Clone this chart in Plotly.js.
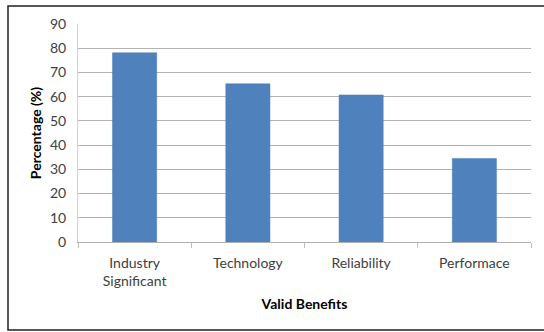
<!DOCTYPE html>
<html>
<head>
<meta charset="utf-8">
<script src="https://cdn.plot.ly/plotly-3.0.1.min.js"></script>
<style>html,body{margin:0;padding:0;background:#fff;}#chart{width:544px;height:332px;}</style>
</head>
<body>
<div id="chart"></div>
<script>
const categories = ["Industry<br>Significant", "Technology", "Reliability", "Performace"];
const values = [78.1, 65.3, 60.7, 34.5];
const yTickValues = [0, 10, 20, 30, 40, 50, 60, 70, 80, 90];

const font = "Lato, 'Open Sans', 'Liberation Sans', sans-serif";

const trace = {
  type: "bar",
  x: categories,
  y: values,
  marker: {color: "#4f81bd", line: {color: "#4a7dba", width: 0.5}},
  hoverinfo: "none"
};

const layout = {
  width: 544,
  height: 332,
  margin: {l: 78, r: 13, t: 24, b: 90},
  paper_bgcolor: "#ffffff",
  plot_bgcolor: "#ffffff",
  showlegend: false,
  bargap: 0.61,
  font: {family: font, size: 14, color: "#404040"},
  xaxis: {
    type: "category",
    tickson: "boundaries",
    ticks: "outside",
    ticklen: 5,
    tickcolor: "#bfbfbf",
    showline: true,
    linecolor: "#b0b0b0",
    linewidth: 1,
    showgrid: false,
    tickfont: {family: font, size: 14, color: "#404040"},
    ticklabelstandoff: 8,
    title: {text: "Valid Benefits", font: {family: font, size: 14, color: "#000000", weight: "bold"}, standoff: 11}
  },
  yaxis: {
    range: [0, 90],
    tickvals: yTickValues,
    ticktext: yTickValues.map(String),
    showgrid: true,
    gridcolor: "#b3b3b3",
    gridwidth: 1,
    zeroline: false,
    showline: true,
    linecolor: "#d0d0d0",
    linewidth: 1,
    ticks: "",
    tickfont: {family: font, size: 14, color: "#404040"},
    ticklabelstandoff: 8,
    title: {text: "Percentage (%)", font: {family: font, size: 14, color: "#000000", weight: "bold"}, standoff: 5}
  },
  shapes: [
    {type: "rect", xref: "paper", yref: "paper",
     x0: (8 - 78) / 453, x1: (546 - 78) / 453,
     y0: (242 - 330) / 218, y1: (242 - 6) / 218,
     line: {color: "#222222", width: 1.5}, fillcolor: "rgba(0,0,0,0)", layer: "below"}
  ]
};

Plotly.newPlot("chart", [trace], layout, {staticPlot: true, displayModeBar: false});
</script>
</body>
</html>
